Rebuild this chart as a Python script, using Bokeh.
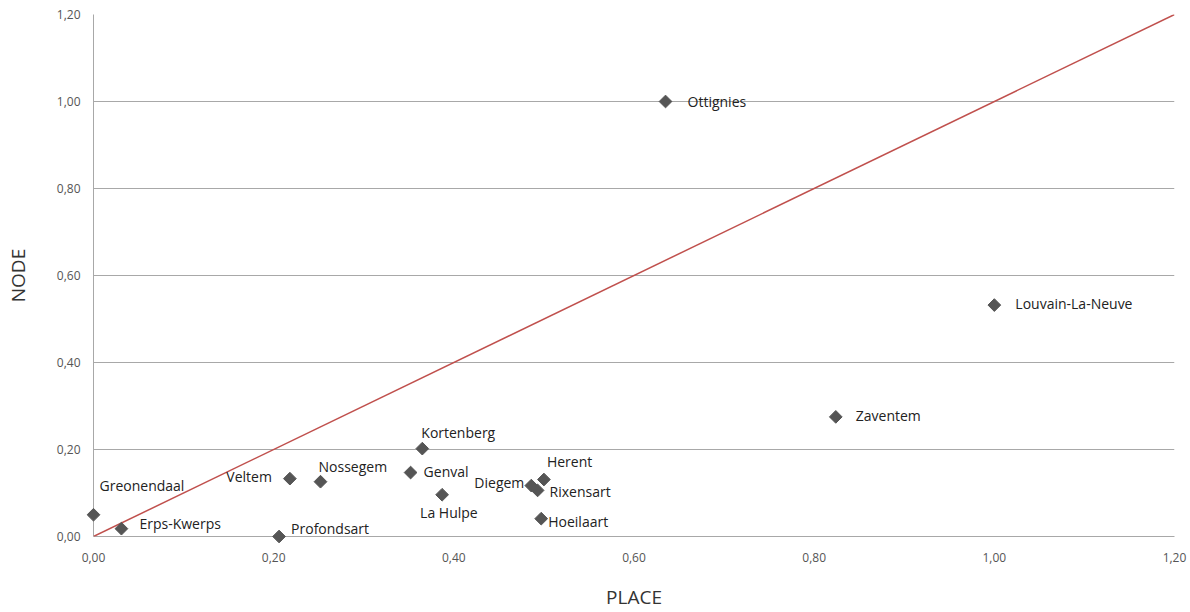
from bokeh.plotting import figure
from bokeh.models import ColumnDataSource, Range1d, FixedTicker, CustomJSTickFormatter, Slope
from bokeh.core.properties import value
from bokeh.embed import file_html
from bokeh.resources import INLINE

# data
places = ["Ottignies", "Louvain-La-Neuve", "Zaventem", "Kortenberg", "Genval", "La Hulpe",
          "Herent", "Diegem", "Rixensart", "Hoeilaart", "Veltem", "Nossegem",
          "Profondsart", "Greonendaal", "Erps-Kwerps"]
place_values = [0.635, 1.00, 0.824, 0.365, 0.352, 0.387,
                0.500, 0.486, 0.493, 0.497, 0.218, 0.252,
                0.206, 0.00, 0.031]
node_values = [1.00, 0.532, 0.275, 0.202, 0.147, 0.096,
               0.131, 0.117, 0.106, 0.041, 0.133, 0.126,
               0.00, 0.050, 0.018]
ticks = [0, 0.2, 0.4, 0.6, 0.8, 1.0, 1.2]

# label layout (screen px offsets)
label_dx = [22, 21, 20, -1, 13, -22, 3, -7, 12, 7, -18, -2, 12, 6, 18]
label_dy = [0, -2, -1, -16, -1, 18, -18, -3, 1, 3, -2, -15, -8, -29, -5]
label_align = ["left", "left", "left", "left", "left", "left", "left", "right",
               "left", "left", "right", "left", "left", "left", "left"]

src = ColumnDataSource(dict(x=place_values, y=node_values, name=places,
                            dx=label_dx, dy=label_dy, align=label_align))

p = figure(width=1190, height=612, output_backend="svg", toolbar_location=None,
           x_range=Range1d(0, 1.2), y_range=Range1d(0, 1.2),
           min_border_left=93, min_border_right=16, min_border_top=14, min_border_bottom=75)
p.outline_line_color = None
p.background_fill_color = "white"

p.xgrid.grid_line_color = None
p.ygrid.grid_line_color = "#a8a8a8"
p.ygrid.grid_line_width = 1

fmt = CustomJSTickFormatter(code="return tick.toFixed(2).replace('.', ',');")
for ax in (p.xaxis[0], p.yaxis[0]):
    ax.ticker = FixedTicker(ticks=ticks)
    ax.formatter = fmt
    ax.major_tick_line_color = None
    ax.minor_tick_line_color = None
    ax.major_label_text_font = "Open Sans"
    ax.major_label_text_font_size = "12px"
    ax.major_label_text_color = "#555555"
    ax.axis_label_text_font = "Open Sans"
    ax.axis_label_text_font_size = "19px"
    ax.axis_label_text_font_style = "normal"
    ax.axis_label_text_color = "#333333"
    ax.axis_line_color = "#a8a8a8"

p.xaxis.axis_label = "PLACE"
p.yaxis.axis_label = "NODE"
p.xaxis.major_label_standoff = 10
p.xaxis.axis_label_standoff = 19
p.yaxis.major_label_standoff = 7
p.yaxis.axis_label_standoff = 23

p.add_layout(Slope(gradient=1, y_intercept=0, line_color="#c0504d", line_width=1.5))

r = p.scatter("x", "y", source=src, marker="square", angle=0.785398, size=9,
              fill_color="#555555", line_color="#555555")
r.level = "overlay"

t = p.text("x", "y", text="name", source=src, x_offset="dx", y_offset="dy",
           text_align="align", text_baseline="middle",
           text_font=value("Open Sans"), text_font_size="14px", text_color="#222222")
t.level = "overlay"

open("out.html", "w").write(file_html(p, INLINE))
